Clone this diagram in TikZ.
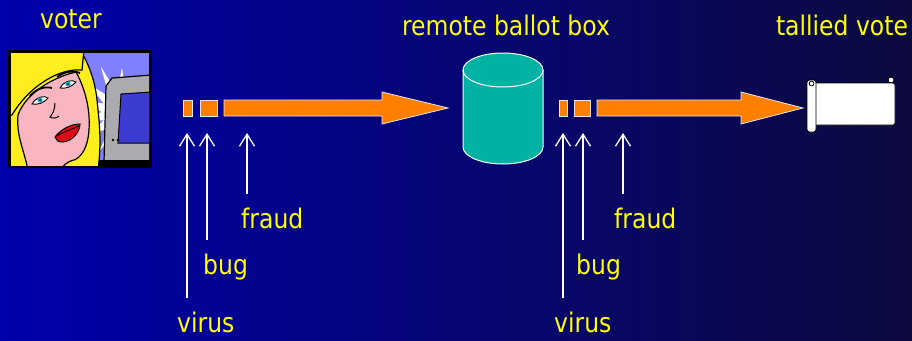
\documentclass[tikz,border=0pt]{standalone}
\usepackage{fontspec}
\usetikzlibrary{arrows.meta}
\newfontfamily\labelfont{DejaVu Sans}[FakeStretch=0.87]

\definecolor{bgL}{RGB}{0,0,172}
\definecolor{bgR}{RGB}{12,10,62}
\definecolor{labelyellow}{RGB}{255,255,0}
\definecolor{flowfill}{RGB}{255,128,0}
\definecolor{flowedge}{RGB}{230,230,240}
\definecolor{boxteal}{RGB}{0,178,163}
\definecolor{artbg}{RGB}{128,128,255}
\definecolor{hairyellow}{RGB}{255,238,30}
\definecolor{skin}{RGB}{250,182,192}
\definecolor{lipred}{RGB}{225,10,20}
\definecolor{irisc}{RGB}{0,170,190}
\definecolor{monitorgrey}{RGB}{170,170,175}
\definecolor{screenblue}{RGB}{60,60,210}

\begin{document}
\begin{tikzpicture}[x=1pt,y=-1pt,
  lbl/.style={text=labelyellow, font=\labelfont\fontsize{27}{32}\selectfont, inner sep=0pt},
  uparrow/.style={draw=white, line width=1.3pt,
    -{Straight Barb[length=12pt,width=15pt,line width=1.3pt]}, shorten <=13pt},
  flow/.style={fill=flowfill, draw=flowedge, line width=0.8pt},
  outline/.style={draw=black, line width=1.2pt},
]
\useasboundingbox (0,0) rectangle (912,340);
\shade[left color=bgL, right color=bgR] (0,0) rectangle (912,340);

% ---------- titles ----------
\node[lbl, anchor=base] (voterT) at (71,28) {voter};
\node[lbl, anchor=base] (boxT)   at (506,35) {remote ballot box};
\node[lbl, anchor=base] (tallyT) at (842,35) {tallied vote};

% ---------- voter at the computer ----------
\begin{scope}
  \fill[black] (8,50) rectangle (152,168);
  \fill[artbg] (11,53) rectangle (149,165);
  \clip (11,53) rectangle (149,165);
  % light burst behind the monitor
  \begin{scope}[shift={(122,112)}]
    \fill[white] (70:46) -- (80:20) -- (95:50) -- (105:20) -- (120:44) -- (130:20)
      -- (145:48) -- (155:20) -- (170:42) -- (180:20) -- (195:46) -- (205:20)
      -- (220:44) -- (230:20) -- (245:50) -- (255:20) -- (270:44) -- (280:20)
      -- (295:40) -- (0,0) -- cycle;
  \end{scope}
  % monitor
  \filldraw[fill=monitorgrey, outline] (112,78) -- (152,75) -- (152,162) -- (104,162) -- (106,86) -- cycle;
  \filldraw[fill=screenblue, draw=black, line width=1pt] (121,94) -- (152,92) -- (152,143) -- (118,143) -- cycle;
  \fill[black] (113,140) circle (1.3) (118,140) circle (1.3);
  \fill[black] (95,160) rectangle (152,168);
  % hair
  \filldraw[fill=hairyellow, outline] (5,50) -- (80,50)
    .. controls (88,62) and (95,80) .. (97,100)
    .. controls (99,120) and (102,140) .. (98,170) -- (5,170) -- cycle;
  % face
  \filldraw[fill=skin, outline] (18,115)
    .. controls (25,95) and (50,78) .. (76,72)
    .. controls (86,90) and (92,115) .. (88,138)
    .. controls (86,150) and (80,158) .. (74,160)
    .. controls (65,162) and (62,168) .. (60,170)
    -- (28,170) .. controls (24,150) and (16,135) .. (18,115) -- cycle;
  % fringe
  \filldraw[fill=hairyellow, outline] (5,50) -- (84,50) -- (82,70)
    .. controls (60,68) and (30,85) .. (12,115) -- (5,115) -- cycle;
  % eyes and brows
  \filldraw[fill=white, draw=black, line width=0.9pt] (32,104)
    .. controls (36,97) and (44,95) .. (48,98)
    .. controls (44,103) and (38,105) .. (32,104) -- cycle;
  \fill[irisc] (40,100) circle (2.6);
  \fill[black] (40,100) circle (1);
  \draw[black, line width=1.8pt] (30,96) .. controls (36,89) and (44,86) .. (52,88);
  \filldraw[fill=white, draw=black, line width=0.9pt] (60,88)
    .. controls (64,81) and (72,79) .. (76,82)
    .. controls (72,87) and (65,89) .. (60,88) -- cycle;
  \fill[irisc] (68,84) circle (2.6);
  \fill[black] (68,84) circle (1);
  \draw[black, line width=1.8pt] (57,77) .. controls (64,72) and (72,70) .. (80,73);
  % nose
  \draw[black, line width=1pt] (55,103) .. controls (55,110) and (52,115) .. (50,117)
    .. controls (53,119) and (57,118) .. (59,116);
  % lips
  \filldraw[fill=lipred, draw=black, line width=1pt] (55,137)
    .. controls (62,128) and (72,124) .. (80,124)
    .. controls (80,132) and (72,142) .. (62,142)
    .. controls (58,142) and (56,140) .. (55,137) -- cycle;
  \draw[black, line width=0.9pt] (56,136) .. controls (64,132) and (72,129) .. (79,126);
\end{scope}

% ---------- vote flow: voter -> ballot box ----------
\fill[flow] (183,100) rectangle (192,116);
\fill[flow] (200,100) rectangle (217,116);
\filldraw[flow] (224,100) -- (382,100) -- (382,92) -- (448,108) -- (382,124)
  -- (382,116) -- (224,116) -- cycle;

% ---------- remote ballot box ----------
\fill[boxteal] (463,70) rectangle (543,147);
\fill[boxteal] (503,147) ellipse [x radius=40, y radius=17];
\fill[boxteal] (503,70) ellipse [x radius=40, y radius=17];
\draw[white, line width=1pt] (463,70) -- (463,147)
  arc [start angle=180, end angle=0, x radius=40, y radius=17] -- (543,70);
\draw[white, line width=1pt] (503,70) ellipse [x radius=40, y radius=17];

% ---------- vote flow: ballot box -> tally ----------
\fill[flow] (559,100) rectangle (567,116);
\fill[flow] (574,100) rectangle (590,116);
\filldraw[flow] (597,100) -- (741,100) -- (741,92) -- (803,108) -- (741,124)
  -- (741,116) -- (597,116) -- cycle;

% ---------- tallied vote (scroll) ----------
\filldraw[fill=white, draw=black, line width=0.8pt] (891,80) circle (3);
\filldraw[fill=white, draw=black, line width=0.8pt, rounded corners=1.5pt] (812,83) rectangle (895,125);
\filldraw[fill=white, draw=black, line width=0.8pt, rounded corners=2.5pt] (807,80) rectangle (816,132);
\draw[black, line width=0.8pt] (811.5,83.5) circle (2.4);

% ---------- threats ----------
\node[lbl, anchor=base west] (virusA) at (177,332) {virus};
\node[lbl, anchor=base west] (bugA)   at (203,274) {bug};
\node[lbl, anchor=base west] (fraudA) at (241,228) {fraud};
\node[lbl, anchor=base west] (virusB) at (554,332) {virus};
\node[lbl, anchor=base west] (bugB)   at (576,274) {bug};
\node[lbl, anchor=base west] (fraudB) at (614,228) {fraud};

\coordinate (virusAtip) at (187,133);
\coordinate (bugAtip)   at (207,133);
\coordinate (fraudAtip) at (247,133);
\coordinate (virusBtip) at (563,133);
\coordinate (bugBtip)   at (583,133);
\coordinate (fraudBtip) at (623,133);

\draw[uparrow] (virusA.north -| virusAtip) -- (virusAtip);
\draw[uparrow] (bugA.north -| bugAtip) -- (bugAtip);
\draw[uparrow] (fraudA.north -| fraudAtip) -- (fraudAtip);
\draw[uparrow] (virusB.north -| virusBtip) -- (virusBtip);
\draw[uparrow] (bugB.north -| bugBtip) -- (bugBtip);
\draw[uparrow] (fraudB.north -| fraudBtip) -- (fraudBtip);
\end{tikzpicture}
\end{document}
